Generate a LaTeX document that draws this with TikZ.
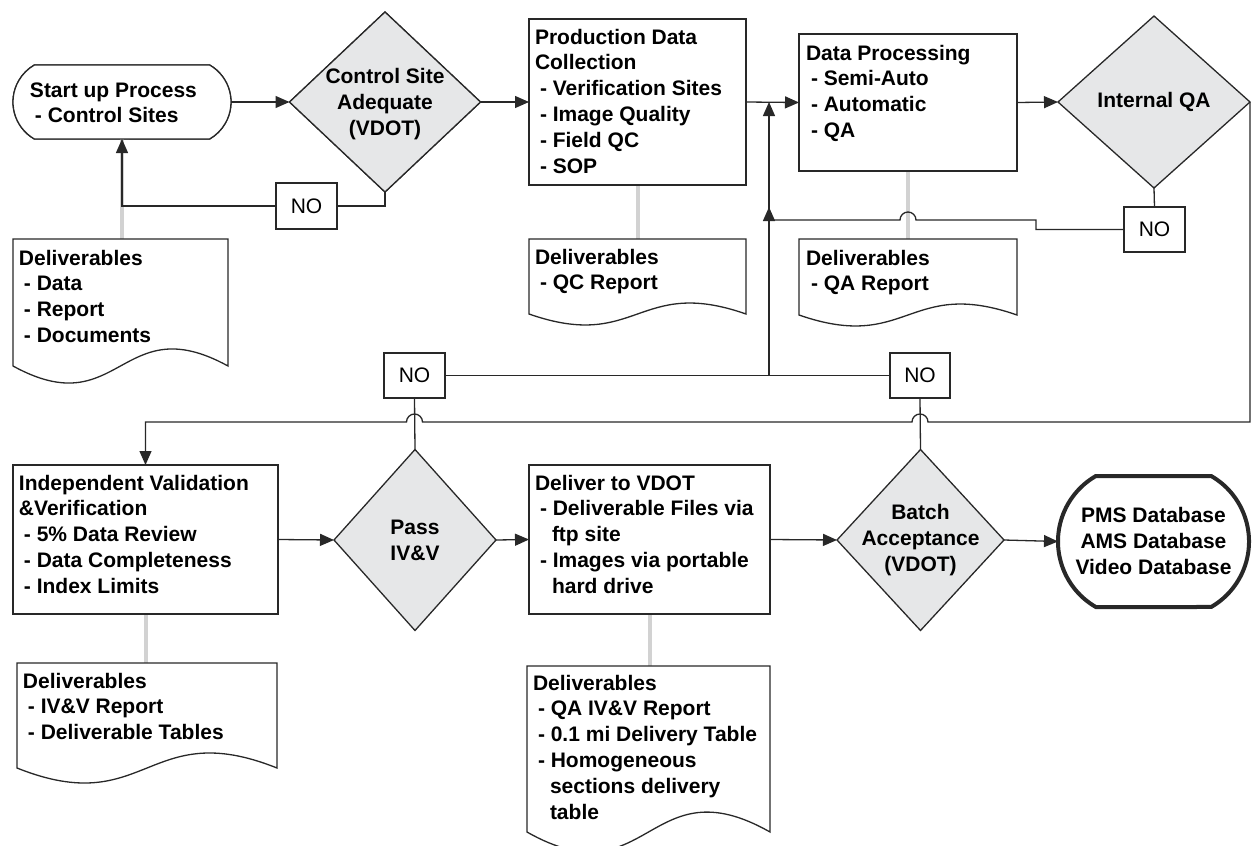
\documentclass[tikz,border=0pt]{standalone}
\usepackage{fontspec}
\setmainfont{Liberation Sans}
\usetikzlibrary{shapes.geometric,shapes.misc,arrows.meta,calc}
\definecolor{diag}{RGB}{230,231,232}
\definecolor{grayln}{RGB}{210,210,210}
\definecolor{lnc}{RGB}{40,40,40}
\newcommand\docpath[2]{\draw[ln,fill=white] (#1.south west) -- (#1.north west) -- (#1.north east) -- (#1.south east) .. controls ($(#1.south)+(0,-#2)$) and ($(#1.south)+(0,#2)$) .. (#1.south west) -- cycle;}
\newcommand\ind{\hspace*{5pt}}
\newcommand\cnt{\hspace*{17pt}}
\begin{document}
\begin{tikzpicture}[x=1pt,y=-1pt,
  every node/.style={outer sep=0pt},
  ln/.style={line width=1.3pt,draw=lnc},
  arr/.style={ln,-{Triangle[length=14pt,width=12pt]}},
  box/.style={draw=lnc,line width=1.3pt,rectangle,inner sep=0pt,fill=white},
  dia/.style={draw=lnc,line width=1.3pt,diamond,inner sep=0pt,fill=diag},
  term/.style={draw=lnc,line width=1.3pt,rounded rectangle,rounded rectangle arc length=120,inner sep=0pt,fill=white},
  nobox/.style={box,font=\fontsize{21}{25}\selectfont},
  txt/.style={font=\fontsize{21}{25.8}\selectfont\bfseries,align=left,inner sep=0pt,anchor=base west},
  ctxt/.style={font=\fontsize{21}{25.8}\selectfont\bfseries,align=center,inner sep=0pt},
  gry/.style={line width=4pt,draw=grayln},
  docb/.style={rectangle,inner sep=0pt}
]
\useasboundingbox (0,0) rectangle (1254,846);
\clip (0,0) rectangle (1254,846);

% shape placeholders
\node[term,minimum width=218pt,minimum height=74pt] (start) at (122,102) {};
\node[dia,minimum width=191pt,minimum height=180pt] (cs) at (385,102) {};
\node[docb,minimum width=215pt,minimum height=127pt] (d1) at (120.5,302.5) {};
\node[docb,minimum width=217pt,minimum height=75pt] (d2) at (637.5,276.5) {};
\node[docb,minimum width=218pt,minimum height=76pt] (d3) at (908,277) {};
\node[docb,minimum width=260pt,minimum height=105pt] (d4) at (147,715.5) {};
\node[docb,minimum width=243pt,minimum height=166pt] (d5) at (648.5,749) {};

% grey deliverable links
\draw[gry] (start.south) -- (start.south |- d1.north);
\draw[gry] (637.5,185) -- (d2.north);
\draw[gry] (908,171) -- (d3.north);
\draw[gry] (145.5,614) -- (145.5,663);
\draw[gry] (649.5,614) -- (649.5,666);

% boxes
\node[term,minimum width=218pt,minimum height=74pt] (start) at (122,102) {};
\node[dia,minimum width=191pt,minimum height=180pt] (cs) at (385,102) {};
\node[box,minimum width=217pt,minimum height=166pt] (pdc) at (637.5,102) {};
\node[box,minimum width=218pt,minimum height=137pt] (dp) at (908,102.5) {};
\node[dia,minimum width=192pt,minimum height=172pt] (iqa) at (1154,102) {};
\node[nobox,minimum width=61pt,minimum height=46pt] (no1) at (306.5,206) {NO};
\node[nobox,minimum width=61pt,minimum height=45pt] (noqa) at (1154.5,229.5) {NO};
\node[nobox,minimum width=61pt,minimum height=45pt] (no2) at (414.5,375.5) {NO};
\node[nobox,minimum width=60pt,minimum height=45pt] (no3) at (920,375.5) {NO};
\node[box,minimum width=265pt,minimum height=149pt] (ivv) at (145.5,539.5) {};
\node[dia,minimum width=162pt,minimum height=181pt] (pass) at (415,540) {};
\node[box,minimum width=241pt,minimum height=149pt] (dv) at (649.5,539.5) {};
\node[dia,minimum width=167pt,minimum height=181pt] (batch) at (920.5,540) {};
\node[term,line width=4pt,minimum width=191pt,minimum height=131pt] (pms) at (1153.5,541.5) {};

\docpath{d1}{59}
\docpath{d2}{38}
\docpath{d3}{38}
\docpath{d4}{52}
\docpath{d5}{69}

% connectors
\coordinate (vx) at (769,375.5);
\coordinate (k1) at (1036,220);
\coordinate (k3) at (1251,422);
\draw[arr] (start.east) -- (cs.west);
\draw[ln] (cs.south) |- (no1.east);
\draw[arr] (no1.west) -| (start.south);
\draw[arr] (cs.east) -- (pdc.west);
\draw[arr] (pdc.east) -- (dp.west);
\draw[arr] (dp.east) -- (iqa.west);
\draw[ln] (iqa.south) -- (noqa.north);
\draw[arr] (noqa.west) -| (k1) -- (916,220) arc[start angle=0,end angle=180,radius=8pt] -- (vx |- k1) -- ++(0,-13);
\draw[ln] (no2.east) -- (no3.west);
\draw[arr] (vx) -- (vx |- pdc.east);
\draw[arr] (iqa.east) -- (iqa.east |- k3) -- (928,422) arc[start angle=0,end angle=180,radius=8pt] -- (422.5,422) arc[start angle=0,end angle=180,radius=8pt] -- (ivv.north |- k3) -- (ivv.north);
\draw[ln] (pass.north) -- (no2.south);
\draw[ln] (batch.north) -- (no3.south);
\draw[arr] (ivv.east) -- (pass.west);
\draw[arr] (pass.east) -- (dv.west);
\draw[arr] (dv.east) -- (batch.west);
\draw[arr] (batch.east) -- (pms.west);

% texts (anchor = baseline of last line)
\node[txt] (tstart) at (30,122.8) {Start up Process\\\ind- Control Sites};
\node[ctxt] (tcs) at (385,104) {Control Site\\Adequate\\(VDOT)};
\node[txt] (tpdc) at (535,173) {Production Data\\Collection\\\ind- Verification Sites\\\ind- Image Quality\\\ind- Field QC\\\ind- SOP};
\node[txt] (tdp) at (806,137.4) {Data Processing\\\ind- Semi-Auto\\\ind- Automatic\\\ind- QA};
\node[ctxt] (tiqa) at (1154,102) {Internal QA};
\node[txt] (td1) at (19,342.4) {Deliverables\\\ind- Data\\\ind- Report\\\ind- Documents};
\node[txt] (td2) at (535,289.8) {Deliverables\\\ind- QC Report};
\node[txt] (td3) at (806,290.8) {Deliverables\\\ind- QA Report};
\node[txt] (tivv) at (19,593.2) {Independent Validation\\\&Verification\\\ind- 5\% Data Review\\\ind- Data Completeness\\\ind- Index Limits};
\node[ctxt] (tpass) at (415,540) {Pass\\IV\&V};
\node[txt] (tdv) at (535,593.2) {Deliver to VDOT\\\ind- Deliverable Files via\\\cnt ftp site\\\ind- Images via portable\\\cnt hard drive};
\node[ctxt] (tbatch) at (920.5,540) {Batch\\Acceptance\\(VDOT)};
\node[ctxt] (tpms) at (1153.5,541) {PMS Database\\AMS Database\\Video Database};
\node[txt] (td4) at (23,739.6) {Deliverables\\\ind- IV\&V Report\\\ind- Deliverable Tables};
\node[txt] (td5) at (533,819) {Deliverables\\\ind- QA IV\&V Report\\\ind- 0.1 mi Delivery Table\\\ind- Homogeneous\\\cnt sections delivery\\\cnt table};
\end{tikzpicture}
\end{document}
